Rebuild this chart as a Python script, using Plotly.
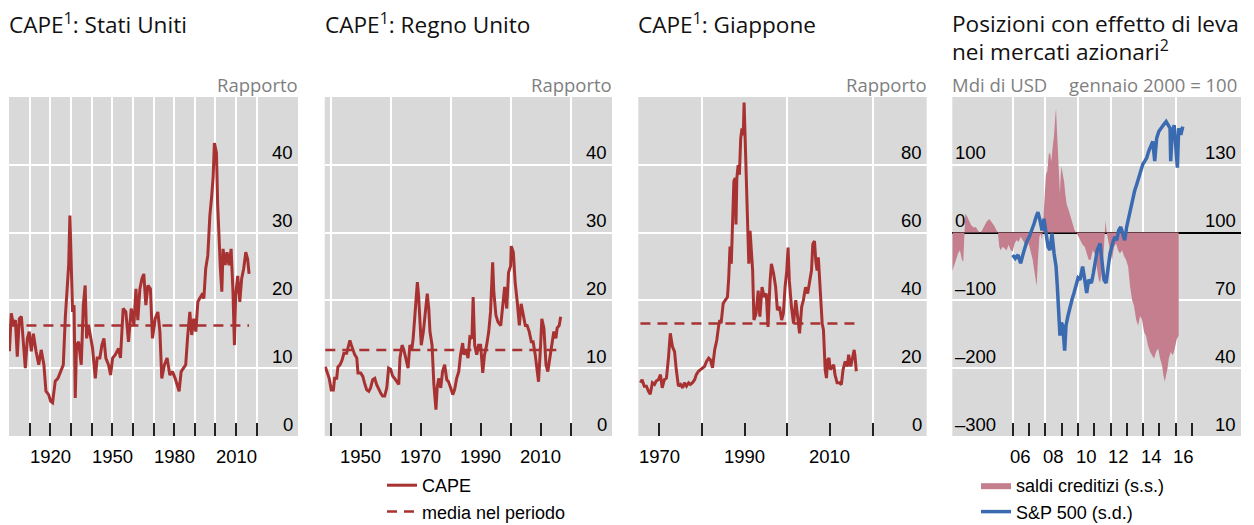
import plotly.graph_objects as go

# ---------------- data ----------------
US_YEARS = [1900.2, 1901.1, 1902.1, 1903.1, 1904.0, 1905.0, 1906.0, 1906.9, 1907.9, 1908.9,
            1909.8, 1910.8, 1911.8, 1913.1, 1914.4, 1915.6, 1916.9, 1917.9, 1919.2, 1920.2,
            1921.1, 1922.4, 1923.7, 1925.0, 1926.3, 1927.3, 1928.2, 1928.9, 1929.5, 1930.2,
            1930.8, 1931.5, 1932.1, 1932.7, 1933.7, 1935.0, 1936.0, 1936.9, 1937.6, 1938.5,
            1939.5, 1940.5, 1941.8, 1942.7, 1944.0, 1945.0, 1946.0, 1946.9, 1948.2, 1949.2,
            1950.2, 1951.5, 1953.1, 1954.0, 1955.3, 1956.6, 1957.9, 1959.2, 1960.5, 1961.5,
            1962.4, 1963.4, 1964.4, 1965.3, 1966.3, 1967.3, 1968.5, 1969.5, 1970.8, 1972.1,
            1973.1, 1974.0, 1975.3, 1976.6, 1977.9, 1979.2, 1980.5, 1981.5, 1982.4, 1983.4,
            1984.7, 1985.6, 1986.6, 1987.6, 1988.5, 1989.5, 1990.5, 1991.5, 1992.4, 1993.4,
            1994.4, 1995.3, 1996.3, 1997.3, 1998.2, 1998.9, 1999.5, 2000.5, 2001.1, 2001.8,
            2002.4, 2003.1, 2003.7, 2004.7, 2005.6, 2006.6, 2007.6, 2008.5, 2009.2, 2009.8,
            2010.8, 2011.8, 2012.7, 2013.7, 2014.7, 2015.6, 2016.3]
US_CAPE = [12.5, 18.1, 16.4, 17.1, 11.7, 17.3, 17.6, 14.4, 10.0, 14.4,
           15.4, 12.5, 15.1, 12.5, 10.5, 12.7, 10.5, 6.6, 6.1, 5.1,
           4.9, 8.1, 8.5, 9.5, 10.5, 17.6, 21.3, 25.2, 32.5, 25.2,
           18.3, 19.3, 5.6, 13.4, 13.9, 10.5, 19.3, 22.2, 14.4, 16.4,
           14.4, 12.9, 8.5, 11.5, 11.5, 13.4, 14.4, 11.5, 10.5, 9.0,
           11.5, 12.0, 12.9, 11.5, 18.8, 18.3, 13.9, 18.8, 16.4, 21.7,
           17.1, 21.7, 23.2, 23.9, 19.3, 22.2, 21.7, 14.4, 17.3, 18.3,
           15.4, 8.5, 10.5, 11.5, 9.0, 9.5, 8.5, 7.6, 6.6, 9.5,
           10.0, 10.5, 14.9, 18.3, 14.9, 17.3, 15.4, 19.8, 20.3, 20.8,
           20.3, 24.7, 26.6, 32.5, 35.4, 38.3, 43.2, 41.8, 34.0, 27.6,
           24.7, 21.3, 27.6, 25.2, 27.1, 25.2, 27.6, 21.3, 13.4, 20.8,
           23.6, 19.8, 23.2, 24.7, 27.1, 26.1, 23.9]
US_MEAN = 16.3

UK_YEARS = [1938.1, 1938.8, 1939.4, 1940.1, 1940.8, 1941.2, 1941.9, 1942.3, 1943.0, 1943.7,
            1944.3, 1945.2, 1945.9, 1946.3, 1946.8, 1947.2, 1947.9, 1948.6, 1949.0, 1949.9,
            1950.6, 1951.2, 1951.9, 1952.6, 1953.2, 1953.9, 1954.6, 1955.2, 1955.9, 1956.6,
            1957.2, 1957.9, 1958.6, 1959.2, 1959.9, 1960.6, 1961.2, 1961.9, 1962.6, 1963.0,
            1963.7, 1964.3, 1965.0, 1965.7, 1966.3, 1967.0, 1967.4, 1968.1, 1968.8, 1969.2,
            1969.7, 1970.1, 1970.8, 1971.4, 1972.1, 1972.6, 1973.0, 1973.7, 1974.3, 1975.0,
            1975.4, 1975.9, 1976.6, 1977.2, 1977.9, 1978.6, 1979.2, 1979.9, 1980.6, 1981.2,
            1981.9, 1982.6, 1983.2, 1983.9, 1984.3, 1985.0, 1985.7, 1986.3, 1987.0, 1987.4,
            1987.9, 1988.6, 1989.2, 1989.9, 1990.6, 1991.2, 1991.9, 1992.6, 1993.2, 1993.9,
            1994.3, 1995.0, 1995.7, 1996.6, 1997.2, 1997.9, 1998.6, 1999.2, 1999.9, 2000.1,
            2000.8, 2001.4, 2002.1, 2002.8, 2003.4, 2004.1, 2004.8, 2005.4, 2006.1, 2006.8,
            2007.4, 2008.1, 2008.8, 2009.2, 2009.9, 2010.3, 2011.0, 2011.7, 2012.3, 2013.0,
            2013.7, 2014.3, 2015.0, 2015.4, 2016.1, 2016.6]
UK_CAPE = [10.2, 9.3, 8.5, 6.8, 6.8, 8.5, 8.5, 10.2, 10.5, 11.2,
           12.2, 12.2, 13.4, 14.1, 13.4, 12.9, 12.0, 11.5, 9.3, 9.3,
           8.8, 7.8, 6.8, 6.6, 7.1, 8.3, 8.5, 7.6, 6.8, 6.3,
           5.9, 5.9, 7.1, 10.0, 9.8, 8.8, 8.5, 8.0, 7.6, 11.5,
           13.4, 12.7, 11.5, 10.0, 13.4, 12.9, 14.4, 18.3, 22.7, 20.7,
           16.3, 13.4, 15.4, 17.8, 21.0, 18.8, 15.4, 13.4, 7.6, 3.9,
           7.1, 8.5, 7.1, 9.5, 10.5, 8.3, 8.0, 7.1, 6.1, 6.8,
           8.5, 9.5, 12.0, 13.7, 12.0, 12.7, 11.5, 14.6, 14.4, 20.5,
           13.4, 12.0, 13.4, 13.4, 9.3, 12.0, 13.4, 15.4, 18.3, 25.6,
           21.2, 17.8, 16.8, 16.3, 18.8, 22.0, 18.8, 24.1, 25.1, 28.0,
           27.1, 22.7, 19.8, 16.3, 19.5, 17.8, 16.3, 16.3, 15.4, 13.9,
           13.9, 12.0, 9.5, 8.0, 13.4, 17.3, 15.9, 10.5, 9.5, 11.5,
           13.9, 15.4, 14.4, 15.9, 16.3, 17.6]
UK_MEAN = 12.7

JP_YEARS = [1965.6, 1966.0, 1966.5, 1967.0, 1967.5, 1967.9, 1968.4, 1968.9, 1969.3, 1969.8,
            1970.3, 1970.7, 1971.2, 1971.7, 1972.2, 1972.6, 1973.1, 1973.6, 1974.0, 1974.5,
            1975.0, 1975.5, 1975.9, 1976.4, 1976.9, 1977.3, 1977.8, 1978.3, 1978.7, 1979.2,
            1979.7, 1980.2, 1980.6, 1981.1, 1981.6, 1982.0, 1982.5, 1983.0, 1983.5, 1983.9,
            1984.2, 1984.5, 1985.0, 1985.5, 1986.0, 1986.3, 1986.6, 1986.9, 1987.2, 1987.5,
            1987.8, 1988.0, 1988.2, 1988.5, 1988.8, 1989.1, 1989.4, 1989.7, 1989.9, 1990.2,
            1990.5, 1990.8, 1991.0, 1991.3, 1991.6, 1991.9, 1992.2, 1992.7, 1993.2, 1993.6,
            1994.1, 1994.6, 1995.1, 1995.5, 1996.0, 1996.3, 1996.8, 1997.3, 1997.7, 1998.2,
            1998.7, 1999.1, 1999.5, 1999.9, 2000.2, 2000.5, 2001.0, 2001.5, 2002.0, 2002.4,
            2002.9, 2003.4, 2003.8, 2004.3, 2004.8, 2005.3, 2005.7, 2006.0, 2006.4, 2006.7,
            2007.0, 2007.3, 2007.6, 2007.9, 2008.2, 2008.5, 2008.9, 2009.2, 2009.5, 2009.8,
            2010.1, 2010.4, 2010.9, 2011.2, 2011.7, 2012.2, 2012.7, 2013.1, 2013.6, 2014.1,
            2014.4, 2014.9, 2015.4, 2015.7, 2015.9, 2016.2]
JP_CAPE = [15.7, 16.6, 14.7, 14.7, 13.2, 12.3, 15.7, 15.2, 16.2, 16.6,
           18.1, 14.2, 16.6, 17.1, 23.5, 30.3, 26.4, 24.9, 19.6, 14.7,
           15.2, 14.2, 15.7, 14.7, 15.7, 15.2, 15.7, 16.6, 18.1, 19.1,
           19.6, 20.1, 20.5, 22.0, 23.0, 22.5, 20.1, 25.4, 28.3, 32.2,
           34.2, 33.2, 39.1, 40.1, 41.0, 46.8, 55.9, 50.8, 61.4, 75.1,
           76.1, 62.4, 76.1, 79.9, 77.1, 87.7, 90.7, 88.7, 98.4, 85.8,
           76.1, 61.4, 50.8, 60.5, 53.7, 48.8, 34.2, 36.1, 42.9, 35.2,
           43.9, 41.0, 42.0, 32.2, 45.9, 50.8, 48.0, 43.9, 37.1, 38.1,
           34.2, 36.1, 43.9, 48.8, 55.6, 45.9, 38.1, 33.2, 40.1, 36.1,
           30.3, 38.1, 40.1, 43.9, 42.0, 45.9, 48.8, 56.6, 57.5, 51.7,
           48.8, 52.7, 44.9, 38.1, 33.2, 31.3, 19.6, 17.1, 22.5, 23.0,
           19.6, 20.1, 21.0, 18.1, 15.7, 15.7, 15.2, 19.6, 22.0, 20.5,
           24.0, 20.5, 24.4, 25.4, 23.5, 19.1]
JP_MEAN = 33.2

CREDIT_YEARS = [2002.30, 2002.40, 2002.52, 2002.65, 2002.77, 2002.89, 2002.97, 2003.06, 2003.10, 2003.22,
                2003.34, 2003.46, 2003.59, 2003.75, 2003.87, 2004.00, 2004.12, 2004.24, 2004.40, 2004.57,
                2004.69, 2004.85, 2005.02, 2005.10, 2005.18, 2005.26, 2005.39, 2005.51, 2005.63, 2005.75,
                2005.88, 2006.00, 2006.12, 2006.25, 2006.37, 2006.49, 2006.61, 2006.74, 2006.86, 2006.98,
                2007.10, 2007.23, 2007.35, 2007.47, 2007.55, 2007.64, 2007.72, 2007.80, 2007.88, 2007.96,
                2008.04, 2008.13, 2008.21, 2008.29, 2008.37, 2008.45, 2008.54, 2008.62, 2008.66, 2008.70,
                2008.74, 2008.78, 2008.82, 2008.86, 2008.90, 2008.94, 2008.99, 2009.07, 2009.15, 2009.23,
                2009.31, 2009.44, 2009.56, 2009.68, 2009.80, 2009.93, 2010.05, 2010.17, 2010.29, 2010.42,
                2010.54, 2010.66, 2010.79, 2010.91, 2011.03, 2011.15, 2011.28, 2011.36, 2011.44, 2011.52,
                2011.60, 2011.69, 2011.77, 2011.85, 2011.97, 2012.09, 2012.22, 2012.34, 2012.46, 2012.58,
                2012.71, 2012.83, 2012.95, 2013.08, 2013.20, 2013.32, 2013.44, 2013.57, 2013.69, 2013.81,
                2013.93, 2014.06, 2014.18, 2014.30, 2014.43, 2014.55, 2014.67, 2014.79, 2014.92, 2015.04,
                2015.16, 2015.24, 2015.33, 2015.41, 2015.49, 2015.57, 2015.69, 2015.82, 2015.94, 2016.06,
                2016.18]
CREDIT_BAL = [-57, -50, -40, -31, -26, -40, -43, -6, 28, 23,
              16, 11, 8, 8, 3, -1, 3, 8, 16, 20,
              16, 11, 3, -1, -21, -26, -21, -23, -26, -18,
              -26, -28, -16, -11, -14, -6, -11, -16, -21, -16,
              -26, -40, -60, -79, -40, -6, -1, -11, 18, 57,
              86, 91, 115, 118, 105, 125, 144, 173, 183, 159,
              139, 105, 86, 66, 57, 81, 98, 86, 76, 57,
              42, 33, 23, 11, 3, -1, -6, -11, -18, -21,
              -31, -40, -40, -26, -31, -50, -69, -74, -60, -50,
              -21, 18, -1, -11, -26, -40, -21, -16, -26, -31,
              -26, -35, -40, -50, -79, -99, -108, -128, -137, -123,
              -128, -147, -152, -167, -176, -181, -186, -176, -171, -186,
              -196, -210, -220, -210, -201, -186, -176, -181, -171, -157,
              -152]

SPX_YEARS = [2006.00, 2006.16, 2006.33, 2006.49, 2006.65, 2006.86, 2007.02, 2007.19, 2007.31, 2007.43,
             2007.55, 2007.68, 2007.80, 2007.92, 2008.04, 2008.17, 2008.29, 2008.41, 2008.54, 2008.66,
             2008.74, 2008.82, 2008.90, 2008.99, 2009.07, 2009.19, 2009.27, 2009.39, 2009.52, 2009.64,
             2009.76, 2009.89, 2010.01, 2010.13, 2010.29, 2010.42, 2010.54, 2010.66, 2010.83, 2010.95,
             2011.07, 2011.19, 2011.36, 2011.48, 2011.60, 2011.73, 2011.85, 2011.97, 2012.13, 2012.26,
             2012.38, 2012.50, 2012.63, 2012.75, 2012.87, 2012.99, 2013.12, 2013.24, 2013.36, 2013.48,
             2013.61, 2013.73, 2013.85, 2013.98, 2014.10, 2014.22, 2014.34, 2014.47, 2014.59, 2014.71,
             2014.83, 2014.96, 2015.08, 2015.24, 2015.41, 2015.53, 2015.65, 2015.69, 2015.77, 2015.90,
             2016.02, 2016.10, 2016.18, 2016.31, 2016.43]
SPX_INDEX = [90.1, 88.6, 90.1, 86.4, 90.8, 95.9, 98.1, 101.0, 103.9, 106.8,
             109.0, 105.4, 101.0, 106.1, 99.6, 93.7, 92.3, 99.6, 90.8, 85.0,
             76.2, 64.6, 54.4, 60.2, 58.8, 47.8, 58.8, 63.1, 67.5, 70.4,
             73.3, 76.2, 79.9, 79.1, 85.0, 79.1, 73.3, 79.1, 77.7, 82.1,
             87.9, 92.3, 95.2, 87.9, 79.1, 77.7, 85.0, 90.8, 95.2, 98.1,
             96.6, 101.0, 102.5, 99.6, 96.6, 102.5, 106.8, 111.2, 115.6, 118.5,
             121.4, 124.3, 127.2, 130.2, 131.6, 133.1, 136.0, 138.9, 140.4, 131.6,
             141.8, 144.7, 146.2, 147.6, 149.1, 147.6, 146.2, 131.6, 143.3, 147.6,
             136.0, 128.7, 146.2, 143.3, 146.9]

# ---------------- axis ticks / labels ----------------
P1_TICKS = [1900, 1910, 1920, 1930, 1940, 1950, 1960, 1970, 1980, 1990, 2000, 2010, 2020]
P1_GRID = [1910, 1920, 1930, 1940, 1950, 1960, 1970, 1980, 1990, 2000, 2010, 2020]
P1_LABELS = [1920, 1950, 1980, 2010]
P2_TICKS = [1940, 1950, 1960, 1970, 1980, 1990, 2000, 2010, 2020]
P2_GRID = [1940, 1960, 1980, 2000, 2020]
P2_LABELS = [1950, 1970, 1990, 2010]
P3_TICKS = [1970, 1980, 1990, 2000, 2010, 2020]
P3_GRID = [1980, 2000, 2020]
P3_LABELS = [1970, 1990, 2010]
P4_TICKS = [2006, 2007, 2008, 2009, 2010, 2011, 2012, 2013, 2014, 2015, 2016, 2017]
P4_GRID = [2006, 2008, 2010, 2012, 2014, 2016]
P4_LABEL_POS = [2006.5, 2008.5, 2010.5, 2012.5, 2014.5, 2016.5]
P4_LABEL_TXT = ["06", "08", "10", "12", "14", "16"]

Y12_TICKS = [0, 10, 20, 30, 40]
Y3_TICKS = [0, 20, 40, 60, 80]
Y4L_TICKS = [-300, -200, -100, 0, 100]
Y4R_TICKS = [10, 40, 70, 100, 130]

TITLES = ["CAPE<sup>1</sup>: Stati Uniti", "CAPE<sup>1</sup>: Regno Unito", "CAPE<sup>1</sup>: Giappone"]
TITLE4 = ["Posizioni con effetto di leva", "nei mercati azionari<sup>2</sup>"]

# ---------------- style ----------------
W, H = 1254, 525
RED = "#A83232"
PINK = "#C47E8E"
BLUE = "#3A6AB0"
BG = "#D9D9D9"
GREY_TXT = "#7F7F7F"
SEGOE = "Open Sans"
ARIAL = "Liberation Sans, Arial"


def px(x):
    return x / W


def py(y):
    return 1 - y / H


PANEL_X = [(9, 298), (324.7, 612), (638.3, 926.7), (952.3, 1241)]
PLOT_TOP, PLOT_BOT = 97, 436

fig = go.Figure()

# CAPE panels
cape_sets = [(US_YEARS, US_CAPE, US_MEAN, "x", "y"),
             (UK_YEARS, UK_CAPE, UK_MEAN, "x2", "y2"),
             (JP_YEARS, JP_CAPE, JP_MEAN, "x3", "y3")]
for i, (xs, ys, m, xa, ya) in enumerate(cape_sets):
    fig.add_trace(go.Scatter(x=[xs[0], xs[-1]], y=[m, m], mode="lines",
                             line=dict(color=RED, width=2.5, dash="10px,7px"),
                             name="media nel periodo", legendgroup="mean",
                             showlegend=(i == 1), legend="legend", legendrank=2,
                             xaxis=xa, yaxis=ya, hoverinfo="skip"))
    fig.add_trace(go.Scatter(x=xs, y=ys, mode="lines",
                             line=dict(color=RED, width=3),
                             name="CAPE", legendgroup="cape",
                             showlegend=(i == 1), legend="legend", legendrank=1,
                             xaxis=xa, yaxis=ya))

# leveraged positions panel
fig.add_trace(go.Scatter(x=CREDIT_YEARS, y=CREDIT_BAL, mode="lines", fill="tozeroy",
                         fillcolor=PINK, line=dict(color=PINK, width=0),
                         name="saldi creditizi (s.s.)", legend="legend2", legendrank=1,
                         xaxis="x4", yaxis="y4"))
fig.add_trace(go.Scatter(x=SPX_YEARS, y=SPX_INDEX, mode="lines",
                         line=dict(color=BLUE, width=3.5),
                         name="S&P 500 (s.d.)", legend="legend2", legendrank=2,
                         xaxis="x4", yaxis="y5"))


# ---------------- axes ----------------
def xaxis(dom, rng, ticks, grid, anchor):
    return dict(domain=[px(dom[0]), px(dom[1])], range=rng, anchor=anchor,
                tickmode="array", tickvals=ticks, ticks="inside", ticklen=13,
                tickwidth=1.6, tickcolor="#222222", showticklabels=False,
                showgrid=False, zeroline=False, showline=False,
                minor=dict(tickmode="array", tickvals=grid, showgrid=True,
                           gridcolor="white", gridwidth=2, ticks=""))


def yaxis(rng, grid, anchor, **kw):
    d = dict(domain=[py(PLOT_BOT), py(PLOT_TOP)], range=rng, anchor=anchor,
             tickmode="array", tickvals=grid, showgrid=True, gridcolor="white",
             gridwidth=2, showticklabels=False, ticks="", zeroline=False, showline=False)
    d.update(kw)
    return d


fig.update_layout(
    xaxis=xaxis(PANEL_X[0], [1900, 2040], P1_TICKS, P1_GRID, "y"),
    xaxis2=xaxis(PANEL_X[1], [1937.9, 2033.7], P2_TICKS, P2_GRID, "y2"),
    xaxis3=xaxis(PANEL_X[2], [1965.1, 2032.7], P3_TICKS, P3_GRID, "y3"),
    xaxis4=xaxis(PANEL_X[3], [2002.3, 2020.0], P4_TICKS, P4_GRID, "y4"),
    yaxis=yaxis([0, 50], Y12_TICKS[1:], "x"),
    yaxis2=yaxis([0, 50], Y12_TICKS[1:], "x2"),
    yaxis3=yaxis([0, 100], Y3_TICKS[1:], "x3"),
    yaxis4=yaxis([-300, 200], [-200, -100, 100], "x4", zeroline=True,
                 zerolinecolor="black", zerolinewidth=1.5),
    yaxis5=dict(domain=[py(PLOT_BOT), py(PLOT_TOP)], range=[10, 160], anchor="x4",
                overlaying="y4", side="right", showgrid=False, showticklabels=False,
                ticks="", zeroline=False, showline=False),
)

# ---------------- text ----------------
ann = []
title_font = dict(family=SEGOE, size=22.6, color="#111111")
grey_font = dict(family=SEGOE, size=18.5, color=GREY_TXT)
tick_font = dict(family=ARIAL, size=18.5, color="#000000")

for i, t in enumerate(TITLES):
    ann.append(dict(text=t, xref="paper", yref="paper", x=px(PANEL_X[i][0]), y=py(24),
                    xanchor="left", yanchor="middle", xshift=-2, showarrow=False, font=title_font))
    ann.append(dict(text="Rapporto", xref="paper", yref="paper", x=px(PANEL_X[i][1]), y=py(84),
                    xanchor="right", yanchor="middle", xshift=2, showarrow=False, font=grey_font))
for j, t in enumerate(TITLE4):
    ann.append(dict(text=t, xref="paper", yref="paper", x=px(PANEL_X[3][0]), y=py(24 + 26.5 * j),
                    xanchor="left", yanchor="middle", xshift=-2, showarrow=False, font=title_font))
ann.append(dict(text="Mdi di USD", xref="paper", yref="paper", x=px(PANEL_X[3][0]), y=py(84),
                xanchor="left", yanchor="middle", xshift=-2, showarrow=False, font=grey_font))
ann.append(dict(text="gennaio 2000 = 100", xref="paper", yref="paper", x=px(PANEL_X[3][1]), y=py(84),
                xanchor="right", yanchor="middle", xshift=-2, showarrow=False, font=grey_font))

# y tick labels (inside, above the gridlines)
for ya, xa, vals in [("y", "x", Y12_TICKS), ("y2", "x2", Y12_TICKS), ("y3", "x3", Y3_TICKS),
                     ("y5", "x4", Y4R_TICKS)]:
    for v in vals:
        ann.append(dict(text=str(v), xref=xa + " domain", yref=ya, x=1, y=v,
                        xanchor="right", yanchor="middle", xshift=-3, yshift=12,
                        showarrow=False, font=tick_font))
for v in Y4L_TICKS:
    ann.append(dict(text=str(v).replace("-", "\u2013"), xref="x4 domain", yref="y4", x=0, y=v,
                    xanchor="left", yanchor="middle", xshift=1, yshift=12,
                    showarrow=False, font=tick_font))

# x tick labels
for xa, vals, txts in [("x", P1_LABELS, P1_LABELS), ("x2", P2_LABELS, P2_LABELS),
                       ("x3", P3_LABELS, P3_LABELS), ("x4", P4_LABEL_POS, P4_LABEL_TXT)]:
    for v, t in zip(vals, txts):
        ann.append(dict(text=str(t), xref=xa, yref="paper", x=v, y=py(456),
                        xanchor="center", yanchor="middle", showarrow=False, font=tick_font))

fig.update_layout(
    annotations=ann,
    width=W, height=H,
    margin=dict(l=0, r=0, t=0, b=0, autoexpand=False),
    paper_bgcolor="white", plot_bgcolor=BG,
    legend=dict(x=px(382), y=py(467), xanchor="left", yanchor="top",
                font=dict(family=ARIAL, size=18, color="#000"), bgcolor="rgba(0,0,0,0)",
                tracegroupgap=0, itemwidth=30),
    legend2=dict(x=px(976), y=py(467), xanchor="left", yanchor="top",
                 font=dict(family=ARIAL, size=18, color="#000"), bgcolor="rgba(0,0,0,0)",
                 tracegroupgap=0, itemwidth=30),
    hovermode=False,
)

# the page's default 8px body margin would push the 1254x525 figure out of the window
fig.write_html("out.html", config={"displayModeBar": False},
               post_script="document.body.style.margin='0px';")
